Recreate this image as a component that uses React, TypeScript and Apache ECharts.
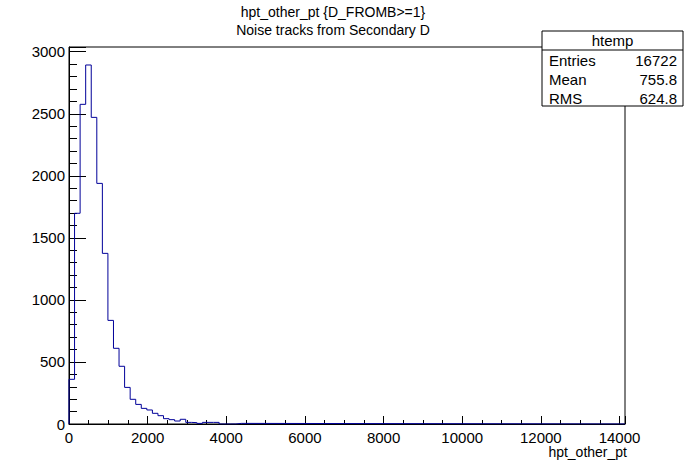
import React, { useEffect, useRef } from 'react';
import * as echarts from 'echarts';

// histogram: 100 bins from 0 to 14140
const binWidth = 141.4;
const binCounts = [
  360, 1698, 2576, 2893, 2471, 1939, 1375, 835, 610, 465,
  295, 199, 158, 126, 113, 86, 67, 43, 35, 24,
  38, 13, 11, 5, 13, 13, 13, 0, 0, 0,
  5,
];
const xMax = 14140;
const yMax = 3038;
const titleLines = ['hpt_other_pt {D_FROMB>=1}', 'Noise tracks from Secondary D'];
const statsRows = [
  ['Entries', '16722'],
  ['Mean', '755.8'],
  ['RMS', '624.8'],
];

const App: React.FC = () => {
  const ref = useRef<HTMLDivElement>(null);

  useEffect(() => {
    if (!ref.current) return;
    const chart = echarts.init(ref.current, null, { renderer: 'svg' });
    const font = 'Liberation Sans, Arial, sans-serif';

    // step outline from bins
    const pts: number[][] = [[0, 0]];
    binCounts.forEach((v, i) => {
      pts.push([i * binWidth, v]);
      pts.push([(i + 1) * binWidth, v]);
    });
    pts.push([binCounts.length * binWidth, 0]);
    pts.push([xMax, 0]);

    const bx = 542, by = 31, bw = 141, bh = 75;
    const graphics: any[] = [
      { type: 'rect', shape: { x: bx, y: by, width: bw, height: bh }, style: { fill: '#fff', stroke: '#000', lineWidth: 1 }, z: 10 },
      { type: 'line', shape: { x1: bx, y1: 50, x2: bx + bw, y2: 50 }, style: { stroke: '#000', lineWidth: 1 }, z: 10 },
      { type: 'text', x: bx + bw / 2, y: 40, style: { text: 'htemp', font: `15px ${font}`, fill: '#000', align: 'center', verticalAlign: 'middle' }, z: 11 },
      ...titleLines.map((t, i) => ({
        type: 'text', x: 333, y: 12 + i * 18,
        style: { text: t, font: `14px ${font}`, fill: '#000', align: 'center', verticalAlign: 'middle' },
      })),
      { type: 'text', x: 627, y: 452, style: { text: 'hpt_other_pt', font: `14px ${font}`, fill: '#000', align: 'right', verticalAlign: 'middle' } },
    ];
    statsRows.forEach(([k, v], i) => {
      const y = 60 + i * 19;
      graphics.push({ type: 'text', x: bx + 7, y, style: { text: k, font: `15px ${font}`, fill: '#000', verticalAlign: 'middle' }, z: 11 });
      graphics.push({ type: 'text', x: bx + bw - 6, y, style: { text: v, font: `15px ${font}`, fill: '#000', align: 'right', verticalAlign: 'middle' }, z: 11 });
    });

    chart.setOption({
      animation: false,
      grid: { left: 69, right: 71, top: 47, bottom: 48, show: true, borderColor: '#000', borderWidth: 1, backgroundColor: 'transparent' },
      xAxis: {
        type: 'value', min: 0, max: xMax, interval: 2000,
        axisLine: { show: true, lineStyle: { color: '#000' } },
        axisTick: { inside: true, length: 8, lineStyle: { color: '#000' } },
        minorTick: { show: true, splitNumber: 4, length: 4, lineStyle: { color: '#000' } },
        splitLine: { show: false },
        axisLabel: { color: '#000', fontSize: 15, fontFamily: font, margin: 6, showMaxLabel: false, formatter: (v: number) => String(v) },
      },
      yAxis: {
        type: 'value', min: 0, max: yMax, interval: 500,
        axisLine: { show: true, lineStyle: { color: '#000' } },
        axisTick: { inside: true, length: 17, lineStyle: { color: '#000' } },
        minorTick: { show: true, splitNumber: 5, length: 8, lineStyle: { color: '#000' } },
        splitLine: { show: false },
        axisLabel: { color: '#000', fontSize: 15, fontFamily: font, margin: 4, showMaxLabel: false, formatter: (v: number) => String(v) },
      },
      series: [{
        type: 'line', data: pts, symbol: 'none',
        lineStyle: { color: '#000099', width: 1 },
      }],
      graphic: graphics,
    });
    return () => chart.dispose();
  }, []);

  return <div ref={ref} style={{ width: 696, height: 472, position: 'absolute', left: 0, top: 0 }} />;
};

export default App;
